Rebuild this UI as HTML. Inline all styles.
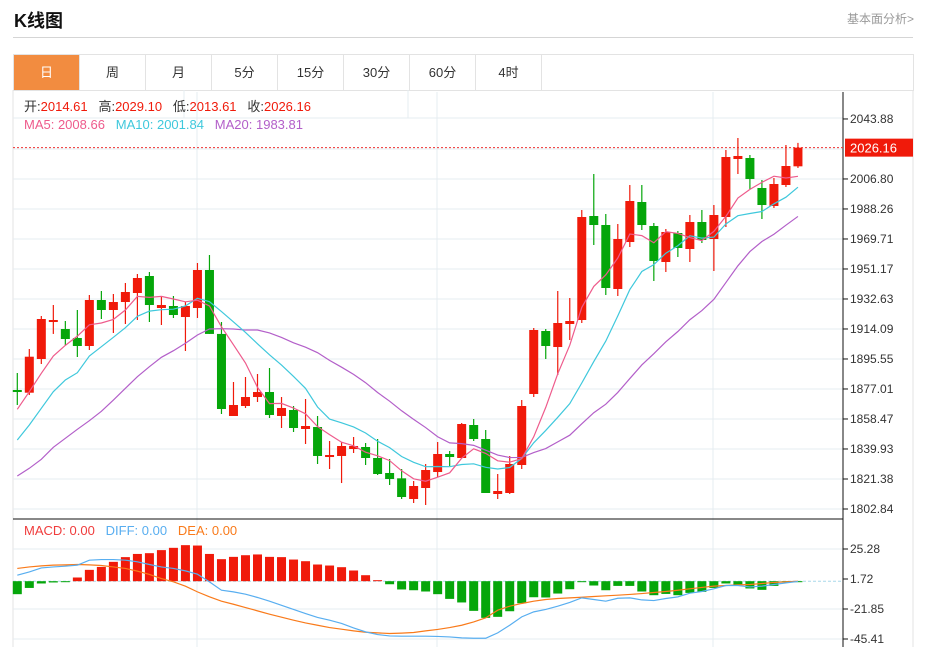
<!DOCTYPE html>
<html><head><meta charset="utf-8">
<style>
body{margin:0;width:926px;height:647px;background:#fff;font-family:"Liberation Sans","Noto Sans CJK SC",sans-serif;overflow:hidden;position:relative}
.title{position:absolute;left:14px;top:7px;font-size:18px;font-weight:bold;color:#111}
.more{position:absolute;right:12px;top:10px;font-size:12px;color:#999}
.hr{position:absolute;left:13px;top:37px;width:900px;height:1px;background:#d5d5d5}
.tabs{position:absolute;left:13px;top:54px;width:899px;height:35px;border:1px solid #e3e3e3;display:flex}
.tab{width:65px;border-right:1px solid #e3e3e3;text-align:center;line-height:35px;font-size:13px;color:#333}
.tab.on{background:#f28c40;color:#fff}
svg{position:absolute;left:0;top:0}
</style></head><body>
<div class="title">K线图</div>
<div class="more">基本面分析&gt;</div>
<div class="hr"></div>
<div class="tabs">
<div class="tab on">日</div>
<div class="tab">周</div>
<div class="tab">月</div>
<div class="tab">5分</div>
<div class="tab">15分</div>
<div class="tab">30分</div>
<div class="tab">60分</div>
<div class="tab">4时</div>
</div>
<svg id="chart" width="926" height="647"></svg>
<script>
const opens=[1876.38,1874.71,1895.54,1918.40,1914.08,1908.52,1903.57,1932.00,1925.82,1930.76,1936.33,1946.83,1927.06,1928.29,1921.49,1927.06,1950.54,1911.03,1860.31,1866.49,1872.05,1875.14,1860.31,1864.02,1852.28,1853.51,1834.97,1835.60,1839.92,1841.15,1834.36,1825.09,1821.80,1809.02,1815.82,1825.70,1836.83,1834.36,1854.75,1846.10,1812.11,1812.73,1830.03,1873.91,1912.84,1902.95,1917.17,1919.64,1983.91,1978.35,1938.80,1967.84,1992.56,1977.73,1955.48,1973.41,1963.52,1980.20,1969.70,1983.29,2019.14,2019.76,2001.22,1990.09,2003.07,2014.61];
const highs=[1886.89,1901.72,1922.11,1928.91,1919.02,1925.82,1935.09,1937.56,1935.71,1942.51,1948.07,1949.30,1934.47,1934.47,1930.76,1954.87,1959.81,1918.40,1881.32,1884.41,1886.27,1889.98,1872.05,1866.49,1870.82,1860.31,1844.86,1844.24,1847.33,1843.63,1846.10,1833.74,1827.56,1820.14,1830.65,1844.24,1838.68,1855.99,1858.46,1851.66,1824.47,1835.59,1870.20,1914.70,1914.08,1937.56,1933.24,1987.62,2009.87,1985.15,1978.97,2003.07,2003.07,1979.59,1975.88,1974.64,1984.53,1987.62,1990.71,2024.70,2032.12,2021.61,2006.16,2007.40,2027.79,2029.10];
const lows=[1867.11,1873.29,1892.45,1911.03,1904.19,1896.77,1901.10,1920.26,1911.61,1917.17,1919.64,1918.40,1916.55,1920.88,1900.48,1920.88,1911.03,1861.55,1860.31,1865.26,1868.96,1859.08,1852.90,1850.42,1843.01,1830.65,1827.56,1818.89,1837.45,1830.03,1823.85,1817.67,1809.02,1806.55,1805.31,1822.61,1829.41,1834.36,1844.86,1812.73,1809.02,1812.11,1827.56,1872.05,1895.54,1885.65,1907.28,1917.79,1965.99,1935.09,1934.47,1964.75,1975.26,1943.74,1949.31,1958.57,1955.48,1967.23,1949.92,1977.11,2009.87,2000.60,1982.06,1988.86,2001.83,2013.61];
const closes=[1875.14,1896.96,1920.26,1919.64,1907.90,1903.57,1932.00,1925.82,1930.76,1936.94,1945.60,1928.91,1928.91,1922.73,1928.29,1950.54,1911.03,1864.64,1867.11,1872.05,1875.14,1860.93,1865.26,1852.90,1854.13,1835.60,1836.21,1841.77,1841.77,1834.36,1824.47,1821.38,1810.25,1817.05,1826.94,1836.83,1834.97,1855.37,1846.10,1812.73,1813.96,1830.65,1866.49,1913.46,1903.57,1917.79,1919.02,1983.29,1978.35,1939.42,1969.70,1993.18,1978.35,1956.10,1974.02,1964.14,1980.20,1969.08,1984.53,2020.37,2021.00,2006.78,1990.71,2003.69,2014.81,2026.16];
// MA values before enough history
const ma5Early=[1864.45,1875.33,1886.70,1897.39];
const ma10Early=[1845.48,1854.75,1865.07,1875.33,1882.56,1887.07,1897.39,1903.14,1908.95];
const ma20Early=[1823.23,1827.99,1833.55,1840.97,1846.53,1852.09,1857.41,1863.21,1870.20,1877.43,1884.61,1890.78,1896.59,1900.67,1905.24,1910.37,1914.08,1914.27,1914.08];
const macdHist=[-10.2,-5.3,-1.8,-1.0,-0.2,2.9,8.9,11.2,15.2,18.9,21.4,22.0,24.4,26.2,28.3,28.0,21.4,17.3,19.1,20.4,21.0,19.1,18.9,17.0,15.7,13.1,12.3,11.0,8.4,4.7,0.8,-2.4,-6.5,-7.1,-8.1,-10.2,-13.9,-16.7,-23.3,-28.8,-28.0,-23.6,-17.3,-12.6,-12.8,-9.7,-6.3,-0.5,-3.4,-7.1,-3.7,-3.7,-8.1,-11.0,-10.0,-11.0,-9.2,-8.4,-5.3,-1.8,-2.6,-5.7,-6.8,-3.7,-1.0,-0.2];
const diffVals=[4.7,7.3,10.4,11.2,11.8,12.6,16.5,17.0,17.0,16.5,15.2,13.1,11.2,10.0,8.1,5.5,-0.5,-7.1,-8.4,-10.2,-12.8,-15.7,-18.9,-22.2,-25.4,-28.5,-30.6,-33.2,-36.7,-39.8,-41.9,-43.0,-43.2,-43.2,-43.2,-43.4,-43.8,-44.5,-44.8,-44.8,-40.6,-34.6,-28.0,-24.1,-22.2,-19.6,-16.7,-13.1,-14.4,-15.7,-13.4,-13.1,-14.7,-15.2,-13.6,-12.3,-9.4,-8.1,-6.0,-3.4,-3.4,-4.5,-3.9,-2.6,-1.3,-0.2];
const deaVals=[10.0,11.2,12.0,12.6,12.8,13.1,12.8,12.3,11.2,10.0,7.9,5.3,2.1,-0.5,-3.9,-8.4,-12.3,-15.7,-18.1,-20.7,-23.3,-25.9,-28.3,-30.6,-32.8,-34.6,-36.4,-37.7,-39.0,-40.1,-40.6,-41.1,-40.8,-40.3,-39.0,-37.9,-36.4,-34.6,-32.0,-28.8,-22.8,-19.6,-17.5,-15.7,-14.4,-13.6,-13.1,-12.6,-12.0,-11.5,-11.0,-10.4,-9.7,-8.9,-8.1,-7.1,-6.0,-4.9,-3.9,-3.4,-2.9,-2.6,-1.8,-1.0,-0.5,0];
const priceTicks=[2043.88,2025.34,2006.80,1988.26,1969.71,1951.17,1932.63,1914.09,1895.55,1877.01,1858.47,1839.93,1821.38,1802.84];
const macdTicks=[25.28,1.72,-21.85,-45.41];

const svg=document.getElementById('chart');
const NS='http://www.w3.org/2000/svg';
function mk(tag,attrs,parent){const e=document.createElementNS(NS,tag);for(const k in attrs)e.setAttribute(k,attrs[k]);(parent||svg).appendChild(e);return e;}
const X=i=>17.3+i*12.01;
const Y=p=>509-(p-1802.84)*30/18.54;
const MY=v=>579-(v-1.72)*30/23.56;
const RED='#f01a0a',GREEN='#05a60a';

// frame & grid
let g=mk('g',{});


mk('line',{x1:13,y1:90,x2:13,y2:647,stroke:'#e3e3e3'},g);
mk('line',{x1:913,y1:90,x2:913,y2:647,stroke:'#e3e3e3'},g);
mk('line',{x1:13,y1:118,x2:843,y2:118,stroke:'#e6ecf1'},g);
priceTicks.forEach(t=>{if(t!==2043.88)mk('line',{x1:13,y1:Y(t),x2:843,y2:Y(t),stroke:'#e6ecf1'},g);});
[549,609,639].forEach(y=>mk('line',{x1:13,y1:y,x2:843,y2:y,stroke:'#e6ecf1'},g));
[197,437,713].forEach(x=>mk('line',{x1:x,y1:92,x2:x,y2:647,stroke:'#e6ecf1'},g));
mk('line',{x1:184,y1:90,x2:184,y2:118,stroke:'#e6ecf1'},g);
mk('line',{x1:408,y1:90,x2:408,y2:118,stroke:'#e6ecf1'},g);
mk('line',{x1:13,y1:MY(0),x2:843,y2:MY(0),stroke:'#a8d8ea','stroke-dasharray':'3,2'},g);
mk('line',{x1:13,y1:519,x2:843,y2:519,stroke:'#111'},g);
mk('line',{x1:843,y1:92,x2:843,y2:647,stroke:'#111'},g);

// axis labels
priceTicks.forEach(t=>{
  if(t===2025.34)return;
  const l=mk('line',{x1:843,y1:Y(t),x2:848,y2:Y(t),stroke:'#111'});
  
  
  const tx=mk('text',{x:850,y:Y(t)+4,'font-size':12,fill:'#333'});
  
  
  tx.textContent=t.toFixed(2);
});
macdTicks.forEach(t=>{
  mk('line',{x1:843,y1:MY(t),x2:848,y2:MY(t),stroke:'#111'});
  const tx=mk('text',{x:850,y:MY(t)+4,'font-size':12,fill:'#333'});
  
  
  tx.textContent=t.toFixed(2);
});

// last price line & label
const last=closes[closes.length-1];
mk('line',{x1:13,y1:Y(last),x2:843,y2:Y(last),stroke:'#e33','stroke-dasharray':'2,2'});
const lb=mk('rect',{x:845,y:Y(last)-9,width:68,height:18,fill:RED});


const lt=mk('text',{x:850,y:Y(last)+5,'font-size':13,fill:'#fff'});
lt.textContent=last.toFixed(2);

// candles
closes.forEach((c,i)=>{
  const o=opens[i],up=c>=o,col=up?RED:GREEN,x=X(i);
  const cg=mk('g',{});
  
  
  mk('line',{x1:x,y1:Y(highs[i]),x2:x,y2:Y(lows[i]),stroke:col,'stroke-width':1.2},cg);
  const top=Y(Math.max(o,c)),bot=Y(Math.min(o,c));
  mk('rect',{x:x-4.5,y:top,width:9,height:Math.max(1.5,bot-top),fill:col},cg);
});

// moving averages
function ma(n,early){return closes.map((c,i)=>{if(i<n-1)return early[i];let s=0;for(let k=i-n+1;k<=i;k++)s+=closes[k];return s/n;});}
[[ma(20,ma20Early),'#b35fc9','ma20-line'],[ma(10,ma10Early),'#3fc8dc','ma10-line'],[ma(5,ma5Early),'#ee5b8c','ma5-line']].forEach(([arr,col,name])=>{
  const p=mk('polyline',{points:arr.map((v,i)=>X(i)+','+Y(v)).join(' '),fill:'none',stroke:col,'stroke-width':1.2});
  
  
});

// MACD histogram
macdHist.forEach((v,i)=>{
  const y0=MY(0),y1=MY(v);
  const r=mk('rect',{x:X(i)-4.5,y:Math.min(y0,y1),width:9,height:Math.max(1,Math.abs(y1-y0)),fill:v>=0?RED:GREEN});
  
  
});
[[deaVals,'#f97a1a','dea-line'],[diffVals,'#58aef0','diff-line']].forEach(([arr,col,name])=>{
  const p=mk('polyline',{points:arr.map((v,i)=>X(i)+','+MY(v)).join(' '),fill:'none',stroke:col,'stroke-width':1.2});
  
  
});

// legends
function legend(x,y,parts,name){
  const t=mk('text',{x:x,y:y,'font-size':13});
  
  
  parts.forEach(([s,c])=>{const sp=mk('tspan',{fill:c},t);sp.textContent=s;});
}
legend(24,111,[['开:','#333'],['2014.61','#f01a0a'],['   高:','#333'],['2029.10','#f01a0a'],['   低:','#333'],['2013.61','#f01a0a'],['   收:','#333'],['2026.16','#f01a0a']],'ohlc-legend');
legend(24,129,[['MA5: 2008.66','#ee5b8c'],['   MA10: 2001.84','#3fc8dc'],['   MA20: 1983.81','#b35fc9']],'ma-legend');
legend(24,535,[['MACD: 0.00','#f03c3c'],['   DIFF: 0.00','#58aef0'],['   DEA: 0.00','#f97a1a']],'macd-legend');
document.querySelectorAll('svg text').forEach(t=>t.setAttribute('xml:space','preserve'));
document.querySelectorAll('svg text').forEach(t=>t.style.whiteSpace='pre');
</script>
</body></html>
